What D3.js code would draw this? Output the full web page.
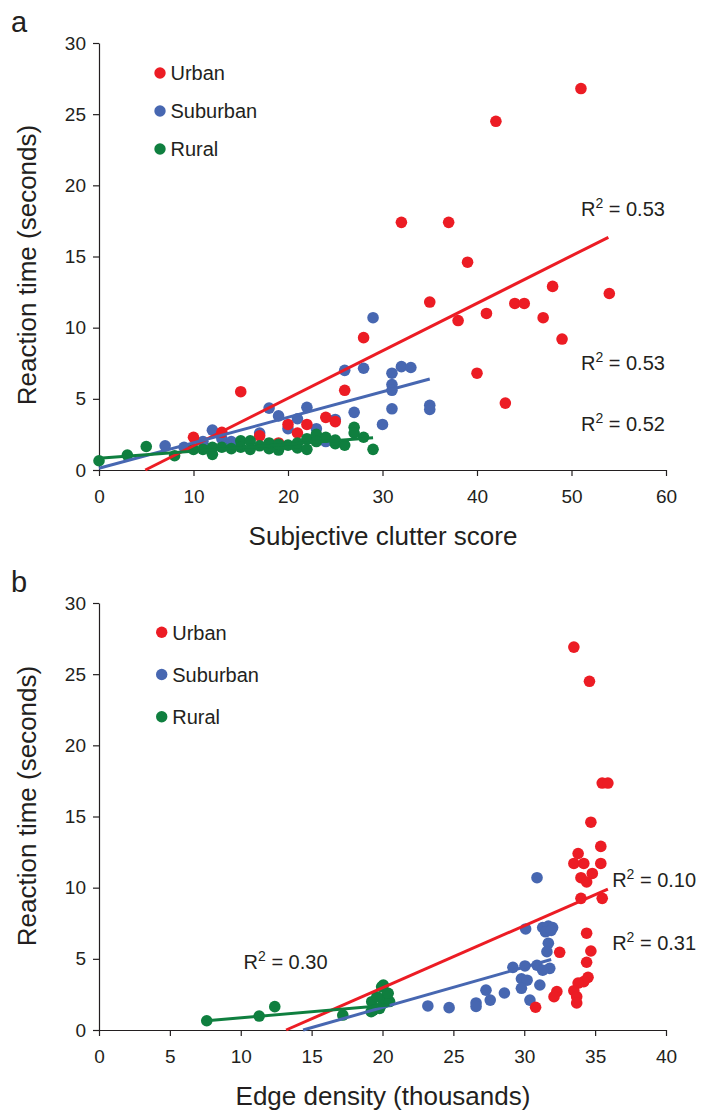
<!DOCTYPE html>
<html lang="en">
<head>
<meta charset="utf-8">
<style>
  body { margin: 0; background: #fff; }
  svg { display: block; font-family: "Liberation Sans", Arial, Helvetica, sans-serif; }
  .axis path, .axis line { stroke: #231f20; stroke-width: 1.2; }
  .axis text { fill: #231f20; font-size: 19px; }
</style>
</head>
<body>
<svg width="702" height="1112"></svg>
<script src="https://cdn.jsdelivr.net/npm/d3@7"></script>
<script>
// ---- data ----
var seriesNames = ['Urban', 'Suburban', 'Rural']
var colors = ['#ec1c24', '#4767b1', '#0f7f3f']

// panel a: subjective clutter score vs reaction time
var urbanA = [[51,26.8],[42,24.5],[32,17.4],[37,17.4],[39,14.6],[35,11.8],[38,10.5],[41,11.0],[44,11.7],[45,11.7],
  [48,12.9],[47,10.7],[49,9.2],[54,12.4],[40,6.8],[43,4.7],[28,9.3],[15,5.5],[26,5.6],[10,2.3],[13,2.65],
  [17,2.4],[19,1.9],[20,3.2],[21,2.6],[22,3.2],[24,3.7],[25,3.4]]
var suburbanA = [[29,10.7],[26,7.0],[28,7.15],[31,6.8],[32,7.26],[33,7.2],[31,6.0],[31,5.6],[31,4.3],[30,3.2],
  [27,4.05],[25,3.55],[22,4.4],[21,3.6],[20,2.9],[19,3.8],[18,4.35],[17,2.6],[23,2.9],[24,2.0],[12,2.8],
  [13,2.2],[14,2.0],[11,2.0],[9,1.6],[7,1.7],[35,4.55],[35,4.25]]
var ruralA = [[0,0.65],[3,1.05],[5,1.65],[8,1.0],[10,1.45],[11,1.45],[12,1.6],[12,1.1],[13,1.6],[14,1.5],
  [15,2.05],[15,1.6],[16,2.05],[16,1.45],[17,1.7],[18,1.5],[19,1.4],[20,1.75],[21,1.55],[22,2.2],[22,1.45],
  [23,2.5],[24,2.3],[25,1.85],[26,1.75],[27,3.0],[27,2.6],[28,2.3],[29,1.45],[18,1.9],[23,2.0],[19,1.8],
  [25,2.1],[21,1.9]]
var fitsA = [[[4.9,0],[53.9,16.35]], [[0,0.12],[35,6.39]], [[0,0.82],[29,2.27]]]
var r2A = ['0.53', '0.53', '0.52']
var r2PosA = [[51,17.85], [51,7.03], [51,2.74]]

// panel b: edge density vs reaction time
var urbanB = [[33.5,26.9],[34.6,24.5],[35.5,17.35],[35.9,17.35],[34.7,14.6],[35.4,12.9],[33.8,12.4],[33.5,11.7],
  [34.2,11.7],[35.4,11.7],[34.8,11.0],[34.0,10.7],[34.4,10.4],[34.0,9.25],[35.5,9.25],[34.4,6.8],[34.7,5.55],
  [32.5,5.46],[34.4,4.76],[34.5,3.7],[34.2,3.4],[33.8,3.3],[33.5,2.76],[33.7,2.34],[33.7,1.9],[32.3,2.7],
  [32.1,2.34],[30.8,1.6]]
var suburbanB = [[30.9,10.7],[31.3,7.2],[31.7,7.3],[32.0,7.2],[31.5,6.9],[31.9,7.0],[30.1,7.1],[31.7,6.1],
  [31.6,5.5],[29.2,4.4],[30.05,4.5],[30.9,4.55],[31.8,4.33],[31.3,4.2],[29.8,3.6],[30.2,3.5],[31.1,3.16],
  [29.8,2.93],[30.4,2.1],[28.6,2.6],[27.3,2.8],[27.6,2.1],[26.6,1.9],[26.6,1.65],[24.7,1.57],[23.2,1.69]]
var ruralB = [[7.6,0.65],[11.3,0.98],[12.4,1.64],[17.2,1.05],[19.94,3.04],[20.3,2.46],[19.24,1.99],[20.06,1.88],
  [19.35,1.4],[19.8,1.52],[20.5,2.0],[19.6,2.34],[19.2,1.29],[20.4,2.58],[20.06,3.16]]
var fitsB = [[[13.2,0],[35.9,9.9]], [[14.4,0],[31.9,4.95]], [[7.6,0.65],[20.5,1.76]]]
var r2B = ['0.10', '0.31', '0.30']
var r2PosB = [[36.2,10.05], [36.2,5.62], [10.2,4.29]]

var yTicks = [0, 5, 10, 15, 20, 25, 30]
var xTicksA = [0, 10, 20, 30, 40, 50, 60]
var xTicksB = [0, 5, 10, 15, 20, 25, 30, 35, 40]

var svg = d3.select('svg')

function drawPanel (opt) {
  var x = d3.scaleLinear().domain(opt.xDomain).range([99, 666])
  var y = d3.scaleLinear().domain([0, 30]).range([opt.bottom, opt.bottom - 427])
  var g = svg.append('g')

  g.append('g')
    .attr('class', 'axis')
    .attr('transform', 'translate(0,' + opt.bottom + ')')
    .call(d3.axisBottom(x).tickValues(opt.xTicks).tickSize(6).tickPadding(14).tickSizeOuter(0))

  g.append('g')
    .attr('class', 'axis')
    .attr('transform', 'translate(99,0)')
    .call(d3.axisLeft(y).tickValues(yTicks).tickSize(6).tickPadding(7).tickSizeOuter(0))

  // dots: suburban, urban, rural
  var order = [1, 0, 2]
  order.forEach(function (i) {
    g.append('g').selectAll('circle')
      .data(opt.series[i])
      .enter().append('circle')
      .attr('cx', function (d) { return x(d[0]) })
      .attr('cy', function (d) { return y(d[1]) })
      .attr('r', 5.8)
      .attr('fill', colors[i])
  })

  var line = d3.line()
    .x(function (d) { return x(d[0]) })
    .y(function (d) { return y(d[1]) })

  opt.fits.forEach(function (f, i) {
    g.append('path')
      .attr('d', line(f))
      .attr('fill', 'none')
      .attr('stroke', colors[i])
      .attr('stroke-width', 3)
  })

  opt.r2.forEach(function (v, i) {
    var t = g.append('text')
      .attr('x', x(opt.r2Pos[i][0]))
      .attr('y', y(opt.r2Pos[i][1]))
      .attr('font-size', 20)
      .attr('fill', '#231f20')
    t.append('tspan').text('R')
    t.append('tspan').attr('dy', -8).attr('font-size', 14).text('2')
    t.append('tspan').attr('dy', 8).text(' = ' + v)
  })

  // legend
  seriesNames.forEach(function (name, i) {
    var ly = opt.legendTop + i * opt.legendStep
    g.append('circle').attr('cx', opt.legendX).attr('cy', ly).attr('r', 5.7).attr('fill', colors[i])
    g.append('text')
      .attr('x', opt.legendX + 10.5)
      .attr('y', ly + 7.3)
      .attr('font-size', 20)
      .attr('fill', '#231f20')
      .text(name)
  })

  g.append('text')
    .attr('transform', 'translate(36,' + opt.yTitleMid + ') rotate(-90)')
    .attr('text-anchor', 'middle')
    .attr('font-size', 26)
    .attr('fill', '#231f20')
    .text('Reaction time (seconds)')

  g.append('text')
    .attr('x', 383)
    .attr('y', opt.bottom + 75)
    .attr('text-anchor', 'middle')
    .attr('font-size', 26)
    .attr('fill', '#231f20')
    .text(opt.xTitle)

  g.append('text')
    .attr('x', 11)
    .attr('y', opt.bottom - 438)
    .attr('font-size', 29)
    .attr('fill', '#231f20')
    .text(opt.letter)
}

drawPanel({
  letter: 'a', bottom: 470, xDomain: [0, 60], xTicks: xTicksA,
  series: [urbanA, suburbanA, ruralA], fits: fitsA, r2: r2A, r2Pos: r2PosA,
  legendX: 160, legendTop: 73, legendStep: 38, yTitleMid: 265,
  xTitle: 'Subjective clutter score'
})

drawPanel({
  letter: 'b', bottom: 1030, xDomain: [0, 40], xTicks: xTicksB,
  series: [urbanB, suburbanB, ruralB], fits: fitsB, r2: r2B, r2Pos: r2PosB,
  legendX: 161.7, legendTop: 632.3, legendStep: 42.2, yTitleMid: 806,
  xTitle: 'Edge density (thousands)'
})
</script>
</body>
</html>
